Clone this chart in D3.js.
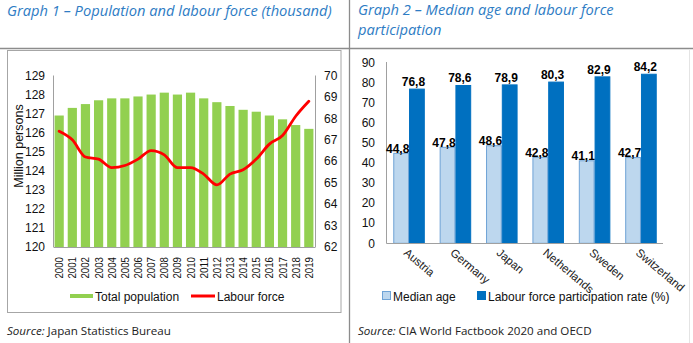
<!DOCTYPE html>
<html>
<head>
<meta charset="utf-8">
<script src="https://cdn.jsdelivr.net/npm/d3@7"></script>
<style>
  html, body { margin: 0; padding: 0; background: #fff; }
  svg { display: block; }
</style>
</head>
<body>
<div id="viewPanel"></div>
<script>
// Graph 1 data
const years = ['2000','2001','2002','2003','2004','2005','2006','2007','2008','2009',
               '2010','2011','2012','2013','2014','2015','2016','2017','2018','2019'];
const totalPopulation = [126.9,127.3,127.5,127.7,127.8,127.8,127.9,128.0,128.1,128.0,
                         128.1,127.8,127.6,127.4,127.2,127.1,126.9,126.7,126.4,126.2];
const labourForce = [67.4,67.0,66.2,66.1,65.7,65.8,66.1,66.5,66.3,65.7,
                     65.7,65.4,64.9,65.4,65.6,66.1,66.8,67.2,68.1,68.8];
const leftTicks = [120,121,122,123,124,125,126,127,128,129];
const rightTicks = [62,63,64,65,66,67,68,69,70];

// Graph 2 data
const countries = ['Austria','Germany','Japan','Netherlands','Sweden','Switzerland'];
const medianAge = [44.8,47.8,48.6,42.8,41.1,42.7];
const participation = [76.8,78.6,78.9,80.3,82.9,84.2];
const pctTicks = [0,10,20,30,40,50,60,70,80,90];

const width = 693, height = 343;
const axisFont = 'Liberation Sans, Arial, sans-serif';
const textFont = '"Open Sans", "Noto Sans", sans-serif';
const titleColor = '#2e7cc4';
const lineGray = '#8c8c8c';

const svg = d3.select('#viewPanel').append('svg')
    .attr('width', width)
    .attr('height', height);

svg.append('rect').attr('width', width).attr('height', height).attr('fill', '#fff');

// frame lines
svg.append('line').attr('x1', 0).attr('x2', width).attr('y1', 48.5).attr('y2', 48.5)
    .attr('stroke', lineGray).attr('stroke-width', 1.3);
svg.append('line').attr('x1', 349.5).attr('x2', 349.5).attr('y1', 0).attr('y2', height)
    .attr('stroke', lineGray).attr('stroke-width', 1.3);
svg.append('line').attr('x1', 689.5).attr('x2', 689.5).attr('y1', 49).attr('y2', height)
    .attr('stroke', '#e4e4e4');
svg.append('rect').attr('x', 7.5).attr('y', 50.5).attr('width', 333.5).attr('height', 262)
    .attr('fill', 'none').attr('stroke', '#a6a6a6');

// titles
function title(x, y, str) {
    svg.append('text').attr('x', x).attr('y', y)
        .attr('font-family', textFont).attr('font-style', 'italic').attr('font-size', 14.7)
        .attr('fill', titleColor)
        .text(str);
}
title(7, 15.5, 'Graph 1 \u2013 Population and labour force (thousand)');
title(358, 15, 'Graph 2 \u2013 Median age and labour force');
title(358, 35, 'participation');

// sources
function source(x, rest) {
    const t = svg.append('text').attr('x', x).attr('y', 335)
        .attr('font-family', textFont).attr('font-size', 11.6).attr('fill', '#222');
    t.append('tspan').attr('font-style', 'italic').text('Source:');
    t.append('tspan').text(' ' + rest);
}
source(7, 'Japan Statistics Bureau');
source(358, 'CIA World Factbook 2020 and OECD');

// ---------- Graph 1 ----------
const g1 = svg.append('g');
const x1 = d3.scaleBand().domain(years).range([53, 315]).paddingInner(0.3).paddingOuter(0.12);
const yL = d3.scaleLinear().domain([120, 129]).range([247, 75.5]);
const yR = d3.scaleLinear().domain([62, 70]).range([247, 75.5]);

g1.append('g').selectAll('rect').data(years).join('rect')
    .attr('x', d => x1(d))
    .attr('width', x1.bandwidth())
    .attr('y', (d, i) => yL(totalPopulation[i]))
    .attr('height', (d, i) => yL(120) - yL(totalPopulation[i]))
    .attr('fill', '#92d050');

const axisStroke = '#a0a0a0';
g1.append('line').attr('x1', 53.5).attr('x2', 53.5).attr('y1', 75.5).attr('y2', 247).attr('stroke', axisStroke);
g1.append('line').attr('x1', 315.5).attr('x2', 315.5).attr('y1', 75.5).attr('y2', 247).attr('stroke', axisStroke);
g1.append('line').attr('x1', 53.5).attr('x2', 315.5).attr('y1', 247.5).attr('y2', 247.5).attr('stroke', axisStroke);

g1.append('g').selectAll('text').data(leftTicks).join('text')
    .attr('x', 45).attr('y', d => yL(d)).attr('dy', '0.35em')
    .attr('text-anchor', 'end')
    .attr('font-family', axisFont).attr('font-size', 12).attr('fill', '#111')
    .text(d => d);
g1.append('g').selectAll('text').data(rightTicks).join('text')
    .attr('x', 324).attr('y', d => yR(d)).attr('dy', '0.35em')
    .attr('font-family', axisFont).attr('font-size', 12).attr('fill', '#111')
    .text(d => d);

g1.append('g').selectAll('text').data(years).join('text')
    .attr('transform', d => `translate(${x1(d) + x1.bandwidth() / 2 + 4},${278.5}) rotate(-90)`)
    .attr('font-family', axisFont).attr('font-size', 11.5).attr('fill', '#111')
    .attr('textLength', 21.5).attr('lengthAdjust', 'spacingAndGlyphs')
    .text(d => d);

g1.append('text')
    .attr('transform', 'translate(23,146) rotate(-90)')
    .attr('text-anchor', 'middle')
    .attr('font-family', axisFont).attr('font-size', 12.5).attr('fill', '#111')
    .text('Million persons');

const line = d3.line()
    .x((d, i) => x1(years[i]) + x1.bandwidth() / 2)
    .y(d => yR(d))
    .curve(d3.curveMonotoneX);
g1.append('path').datum(labourForce)
    .attr('d', line)
    .attr('fill', 'none').attr('stroke', '#ff0000').attr('stroke-width', 2.8)
    .attr('stroke-linejoin', 'round').attr('stroke-linecap', 'round');

// legend 1
g1.append('rect').attr('x', 70).attr('y', 294).attr('width', 23).attr('height', 4).attr('fill', '#92d050');
g1.append('text').attr('x', 95).attr('y', 300.5)
    .attr('font-family', axisFont).attr('font-size', 12).attr('fill', '#111').text('Total population');
g1.append('line').attr('x1', 191).attr('x2', 215).attr('y1', 296).attr('y2', 296)
    .attr('stroke', '#ff0000').attr('stroke-width', 3);
g1.append('text').attr('x', 217).attr('y', 300.5)
    .attr('font-family', axisFont).attr('font-size', 12).attr('fill', '#111').text('Labour force');

// ---------- Graph 2 ----------
const g2 = svg.append('g');
const x2 = d3.scaleBand().domain(countries).range([387, 663]).paddingInner(0.32).paddingOuter(0.135);
const xs = d3.scaleBand().domain(['median', 'labour']).range([0, x2.bandwidth()]);
const y2 = d3.scaleLinear().domain([0, 90]).range([243.3, 62.6]);
const fmt = v => d3.format('.1f')(v).replace('.', ',');

const series = [
    { key: 'median', values: medianAge, fill: '#bdd7ee', stroke: '#6fa3d6', dy: -0.5 },
    { key: 'labour', values: participation, fill: '#0070c0', stroke: '#0070c0', dy: -3 }
];

series.forEach(s => {
    g2.append('g').selectAll('rect').data(countries).join('rect')
        .attr('x', d => x2(d) + xs(s.key) + 0.5)
        .attr('width', xs.bandwidth() - 1)
        .attr('y', (d, i) => y2(s.values[i]))
        .attr('height', (d, i) => y2(0) - y2(s.values[i]))
        .attr('fill', s.fill).attr('stroke', s.stroke).attr('stroke-width', 1);
});

g2.append('line').attr('x1', 386.5).attr('x2', 386.5).attr('y1', 62).attr('y2', 243.5).attr('stroke', axisStroke);
g2.append('line').attr('x1', 386.5).attr('x2', 663).attr('y1', 243.5).attr('y2', 243.5).attr('stroke', axisStroke);

g2.append('g').selectAll('text').data(pctTicks).join('text')
    .attr('x', 375).attr('y', d => y2(d)).attr('dy', '0.35em')
    .attr('text-anchor', 'end')
    .attr('font-family', axisFont).attr('font-size', 12).attr('fill', '#111')
    .text(d => d);

series.forEach(s => {
    g2.append('g').selectAll('text').data(countries).join('text')
        .attr('x', d => x2(d) + xs(s.key) + xs.bandwidth() / 2 - 3.5)
        .attr('y', (d, i) => y2(s.values[i]) + s.dy)
        .attr('text-anchor', 'middle')
        .attr('font-family', axisFont).attr('font-size', 12).attr('font-weight', 'bold')
        .attr('fill', '#000')
        .text((d, i) => fmt(s.values[i]));
});

g2.append('g').selectAll('text').data(countries).join('text')
    .attr('transform', d => `translate(${x2(d) + x2.bandwidth() / 2 - 6},${254}) rotate(40)`)
    .attr('font-family', axisFont).attr('font-size', 11.5).attr('fill', '#222')
    .text(d => d);

// legend 2
g2.append('rect').attr('x', 382.5).attr('y', 291.5).attr('width', 8).attr('height', 8)
    .attr('fill', '#bdd7ee').attr('stroke', '#6fa3d6');
g2.append('text').attr('x', 393).attr('y', 300.5)
    .attr('font-family', axisFont).attr('font-size', 12).attr('fill', '#111').text('Median age');
g2.append('rect').attr('x', 477).attr('y', 291).attr('width', 9).attr('height', 9).attr('fill', '#0070c0');
g2.append('text').attr('x', 488).attr('y', 300.5)
    .attr('font-family', axisFont).attr('font-size', 12).attr('fill', '#111')
    .text('Labour force participation rate (%)');
</script>
</body>
</html>
